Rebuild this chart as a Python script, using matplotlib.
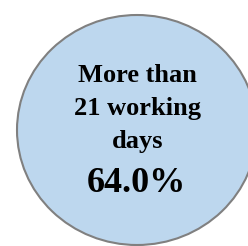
import matplotlib.pyplot as plt
from matplotlib.patches import Ellipse

label_lines = ["More than", "21 working", "days"]
share_pct = 64.0

fig = plt.figure(figsize=(2.48, 2.46), dpi=100)
ax = fig.add_axes([0, 0, 1, 1])
ax.set_xlim(0, 248)
ax.set_ylim(246, 0)
ax.axis("off")

ax.add_patch(Ellipse((137, 130), 240, 230, facecolor="#BDD7EE", edgecolor="#808080", linewidth=1.5))

font = dict(family=["Liberation Serif", "DejaVu Serif"], weight="bold", color="black",
            ha="center", va="baseline")
ys = [82, 115, 148]
for txt, y in zip(label_lines, ys):
    ax.text(137.5, y, txt, fontsize=19, **font)
ax.text(136, 192, f"{share_pct:.1f}%", fontsize=26, **font)

fig.savefig("out.png", dpi=100)
